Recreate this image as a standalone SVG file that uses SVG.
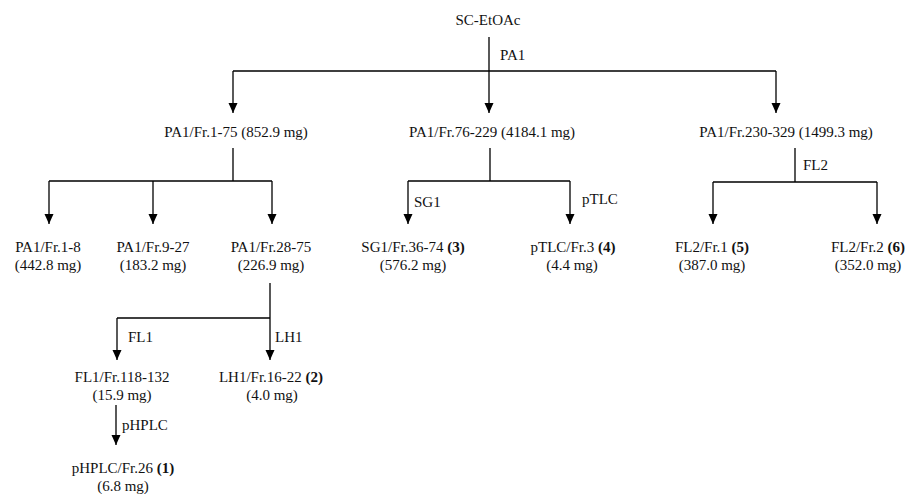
<svg xmlns="http://www.w3.org/2000/svg" width="905" height="494" viewBox="0 0 905 494">
<defs>
<marker id="ah" markerUnits="userSpaceOnUse" markerWidth="10" markerHeight="10" refX="10" refY="5" orient="auto">
<path d="M0,0.5 L10,5 L0,9.5 z" fill="#000"/>
</marker>
<style>
text{font-family:"Liberation Serif","Times New Roman",serif;font-size:15px;fill:#111}
.n text{text-anchor:middle}
.b{font-weight:bold}
.ln{fill:none;stroke:#000;stroke-width:1.3}
.ar{fill:none;stroke:#000;stroke-width:1.3;marker-end:url(#ah)}
</style>
</defs>
<rect width="905" height="494" fill="#fff"/>
<g id="connectors">
<path class="ln" d="M489,37 V71 M233,71 H776"/>
<path class="ar" d="M233,71 V113"/>
<path class="ar" d="M489,71 V113"/>
<path class="ar" d="M776,71 V113"/>
<text x="500" y="60">PA1</text>
<path class="ln" d="M233,148 V181 M49,181 H272"/>
<path class="ar" d="M49,181 V224"/>
<path class="ar" d="M153,181 V224"/>
<path class="ar" d="M272,181 V224"/>
<path class="ln" d="M490,148 V181 M408,181 H570"/>
<path class="ar" d="M408,181 V224"/>
<path class="ar" d="M570,181 V224"/>
<text x="414" y="207">SG1</text>
<text x="582" y="204">pTLC</text>
<path class="ln" d="M795,148 V182 M713,182 H877"/>
<path class="ar" d="M713,182 V224"/>
<path class="ar" d="M877,182 V224"/>
<text x="803" y="170">FL2</text>
<path class="ln" d="M270,283 V318 M117,318 H270"/>
<path class="ar" d="M117,318 V360"/>
<path class="ar" d="M270,318 V360"/>
<text x="128" y="342">FL1</text>
<text x="275" y="342">LH1</text>
<path class="ar" d="M116,405 V445"/>
<text x="122" y="430">pHPLC</text>
</g>
<g id="n0" class="n"><text x="488" y="25">SC-EtOAc</text></g>
<g id="n1" class="n"><text x="236" y="137">PA1/Fr.1-75 (852.9 mg)</text></g>
<g id="n2" class="n"><text x="492" y="137">PA1/Fr.76-229 (4184.1 mg)</text></g>
<g id="n3" class="n"><text x="786" y="137">PA1/Fr.230-329 (1499.3 mg)</text></g>
<g id="n4" class="n"><text x="48" y="252">PA1/Fr.1-8</text><text x="48" y="270">(442.8 mg)</text></g>
<g id="n5" class="n"><text x="153" y="252">PA1/Fr.9-27</text><text x="153" y="270">(183.2 mg)</text></g>
<g id="n6" class="n"><text x="271" y="252">PA1/Fr.28-75</text><text x="271" y="270">(226.9 mg)</text></g>
<g id="n7" class="n"><text x="413" y="252">SG1/Fr.36-74 <tspan class="b">(3)</tspan></text><text x="413" y="270">(576.2 mg)</text></g>
<g id="n8" class="n"><text x="573" y="252">pTLC/Fr.3 <tspan class="b">(4)</tspan></text><text x="572" y="270">(4.4 mg)</text></g>
<g id="n9" class="n"><text x="712" y="252">FL2/Fr.1 <tspan class="b">(5)</tspan></text><text x="712" y="270">(387.0 mg)</text></g>
<g id="n10" class="n"><text x="868" y="252">FL2/Fr.2 <tspan class="b">(6)</tspan></text><text x="868" y="270">(352.0 mg)</text></g>
<g id="n11" class="n"><text x="122" y="382">FL1/Fr.118-132</text><text x="122" y="400">(15.9 mg)</text></g>
<g id="n12" class="n"><text x="271" y="382">LH1/Fr.16-22 <tspan class="b">(2)</tspan></text><text x="272" y="400">(4.0 mg)</text></g>
<g id="n13" class="n"><text x="123" y="473">pHPLC/Fr.26 <tspan class="b">(1)</tspan></text><text x="123" y="491">(6.8 mg)</text></g>
</svg>
